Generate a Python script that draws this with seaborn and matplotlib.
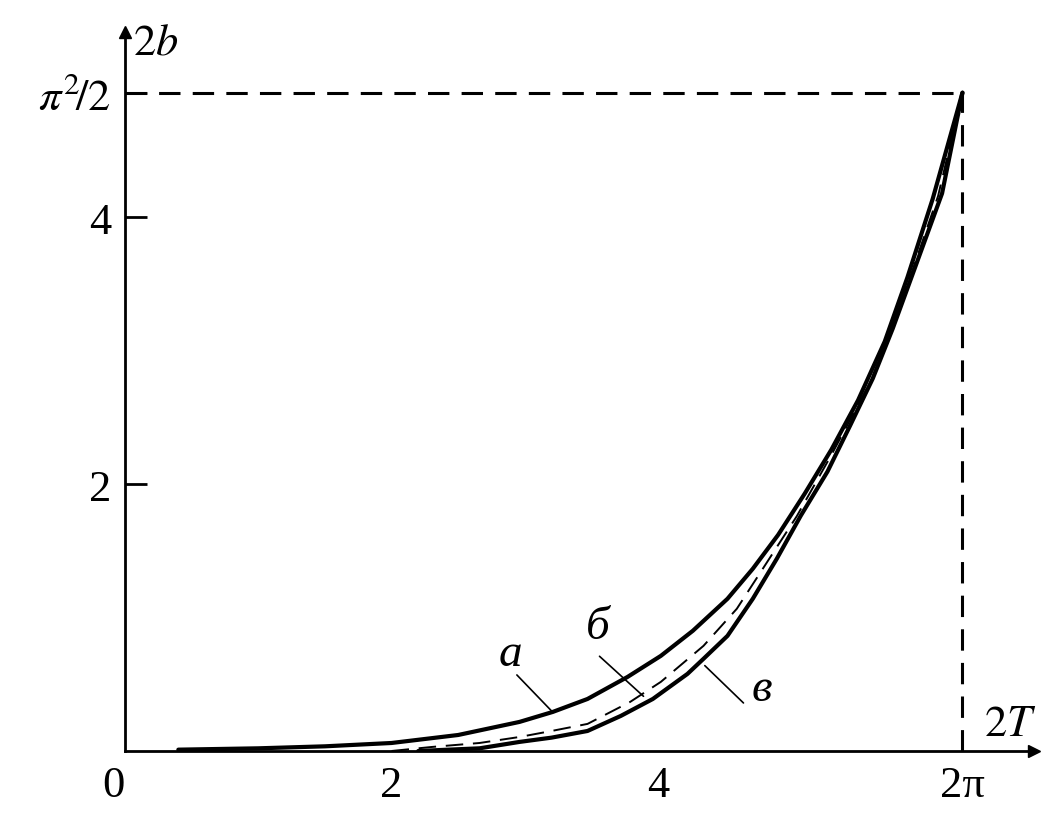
import numpy as np
import pandas as pd
import matplotlib
matplotlib.use("Agg")
import matplotlib.pyplot as plt
import seaborn as sns

# ---- data ----
a_x = [0.40, 1.00, 1.50, 2.00, 2.50, 2.96, 3.21, 3.47, 3.77, 4.02, 4.26, 4.52, 4.71,
       4.90, 5.10, 5.30, 5.50, 5.70, 5.87, 6.06, 6.283]
a_y = [0.01, 0.02, 0.035, 0.06, 0.12, 0.218, 0.293, 0.390, 0.555, 0.713, 0.901, 1.141, 1.366,
       1.62, 1.93, 2.26, 2.63, 3.07, 3.55, 4.14, 4.935]

b_x = [2.00, 2.30, 2.66, 2.96, 3.20, 3.47, 3.79, 4.02, 4.34, 4.59, 4.77,
       5.04, 5.30, 5.60, 5.90, 6.10, 6.283]
b_y = [0.00, 0.03, 0.06, 0.105, 0.15, 0.203, 0.368, 0.518, 0.788, 1.066, 1.343,
       1.76, 2.22, 2.78, 3.58, 4.16, 4.935]

c_x = [2.20, 2.66, 2.96, 3.20, 3.47, 3.72, 3.96, 4.22, 4.34, 4.52, 4.71, 4.89,
       5.07, 5.27, 5.44, 5.61, 5.76, 5.93, 6.13, 6.283]
c_y = [0.00, 0.02, 0.068, 0.10, 0.150, 0.263, 0.390, 0.578, 0.691, 0.863, 1.141, 1.441,
       1.764, 2.094, 2.439, 2.792, 3.167, 3.632, 4.180, 4.935]

curve_names = ["а", "б", "в"]
x_ticks = [0, 2, 4, 2 * np.pi]
x_tick_labels = ["0", "2", "4", "2π"]
y_ticks = [2, 4, np.pi ** 2 / 2]
y_tick_labels = ["2", "4", r"$\pi^2\!/2$"]
x_end = 2 * np.pi
y_end = np.pi ** 2 / 2

df = pd.concat([
    pd.DataFrame({"x": a_x, "y": a_y, "curve": "а"}),
    pd.DataFrame({"x": b_x, "y": b_y, "curve": "б"}),
    pd.DataFrame({"x": c_x, "y": c_y, "curve": "в"}),
])

sns.set_theme(style="white")
plt.rcParams["font.family"] = ["Liberation Serif", "DejaVu Serif"]
plt.rcParams["mathtext.fontset"] = "stix"
plt.rcParams["text.color"] = "black"

fig = plt.figure(figsize=(10.58, 8.29), dpi=100)
ax = fig.add_axes([0.11815, 0.0929, 0.8592, 0.8673])

# solid curves a and в
sns.lineplot(data=df[df.curve == "а"], x="x", y="y", ax=ax, color="black",
             lw=3.0, sort=False, estimator=None)
sns.lineplot(data=df[df.curve == "в"], x="x", y="y", ax=ax, color="black",
             lw=3.0, sort=False, estimator=None)
# dashed curve б
sns.lineplot(data=df[df.curve == "б"], x="x", y="y", ax=ax, color="black",
             lw=1.4, sort=False, estimator=None)
ax.lines[-1].set_dashes([9, 5])

# reference dashed lines
ax.plot([0, x_end], [y_end, y_end], color="black", lw=2.2, dashes=[7, 4])
ax.plot([x_end, x_end], [0, y_end], color="black", lw=2.2, dashes=[7, 4])

ax.set_xlim(0, 6.82)
ax.set_ylim(0, 5.39)

for s in ["top", "right"]:
    ax.spines[s].set_visible(False)
for s in ["left", "bottom"]:
    ax.spines[s].set_color("black")
    ax.spines[s].set_linewidth(2.0)

# axis arrowheads
ax.plot(1, 0, ">", color="black", ms=9, transform=ax.transAxes, clip_on=False)
ax.plot(0, 1, "^", color="black", ms=9, transform=ax.transAxes, clip_on=False)

# ticks
ax.set_xticks(x_ticks)
ax.set_xticklabels(x_tick_labels)
ax.set_xticks([4], minor=True)
ax.tick_params(axis="x", which="major", bottom=True, length=0, pad=10, labelsize=32,
               colors="black", labelcolor="black")
ax.tick_params(axis="x", which="minor", bottom=True, direction="in", length=15, width=2.0,
               color="black")
ax.xaxis.get_majorticklabels()[0].set_horizontalalignment("right")

ax.set_yticks(y_ticks)
ax.set_yticklabels(y_tick_labels)
ax.tick_params(axis="y", which="major", left=True, direction="in", length=16, width=2.0,
               pad=10, labelsize=32, colors="black", labelcolor="black")

ax.set_xlabel("")
ax.set_ylabel("")

# axis names
ax.text(0.23, 5.31, r"$2b$", fontsize=32, ha="center", va="center", color="black")
ax.text(6.64, 0.20, r"$2T$", fontsize=32, ha="center", va="center", color="black")

# curve labels with leaders
label_pos = [(2.89, 0.73), (3.55, 0.93), (4.78, 0.47)]
leaders = [((2.94, 0.57), (3.21, 0.29)),
           ((3.56, 0.71), (3.89, 0.41)),
           ((4.35, 0.64), (4.64, 0.36))]
for name, (lx, ly), (p0, p1) in zip(curve_names, label_pos, leaders):
    ax.text(lx, ly, name, fontsize=34, style="italic", ha="center", va="center",
            color="black")
    ax.plot([p0[0], p1[0]], [p0[1], p1[1]], color="black", lw=1.2)

legend = ax.get_legend()
if legend is not None:
    legend.remove()

fig.savefig("out.png", dpi=100, facecolor="white")
